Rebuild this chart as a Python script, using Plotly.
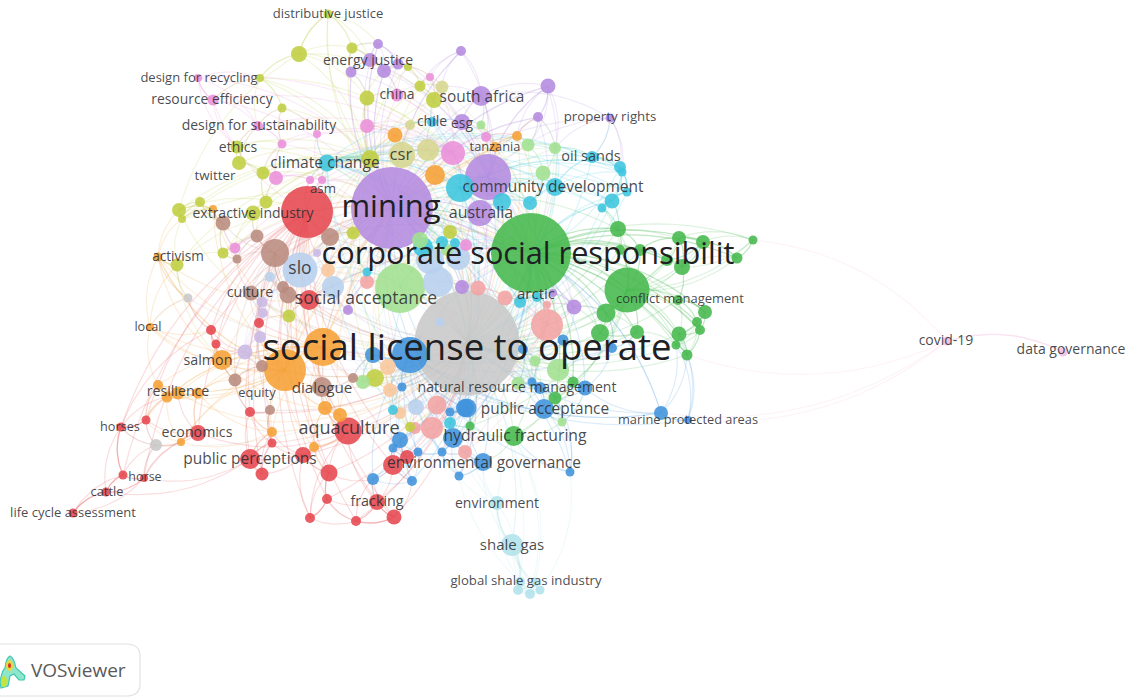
import plotly.graph_objects as go

# ---- cluster colours ----
colors = {"gray": "#c8c8c8", "purple": "#b48adf", "green": "#45b84c", "lgreen": "#a2e08f", "lblue": "#b7d0ee",
          "salmon": "#f3a3a3", "red": "#e6474f", "orange": "#f6a136", "lorange": "#f8c79c", "brown": "#b98b7e", "pink": "#ea8fda",
          "lav": "#c9b8e6", "yellow": "#bfce40", "olive": "#d6d68e", "cyan": "#3ec5de", "blue": "#4093dc", "lcyan": "#b2e2ea",
          "covid": "#f3bfe0"}

# ---- node positions and sizes per cluster (first entries are the hubs) ----
gray_x = [467, 188, 156]; gray_y = [343, 298, 445]; gray_d = [105, 9, 12]
purple_x = [392, 488, 480, 481, 548, 461, 378, 370, 384, 398, 351, 462, 538, 610, 574, 348, 462, 553]
purple_y = [208, 177, 213, 96, 86, 51, 44, 60, 71, 64, 72, 122, 117, 118, 307, 310, 287, 293]
purple_d = [82, 46, 26, 20, 15, 10, 10, 14, 14, 11, 11, 16, 10, 9, 15, 10, 14, 8]
green_x = [531, 627, 618, 679, 703, 753, 737, 682, 606, 600, 637, 679, 705, 697, 700, 676, 687, 678, 640, 620, 667, 514, 555, 470, 573]
green_y = [253, 290, 229, 238, 242, 240, 258, 267, 313, 333, 332, 334, 312, 322, 330, 345, 355, 300, 250, 250, 260, 436, 398, 426, 382]
green_d = [80, 45, 16, 14, 14, 9, 11, 16, 19, 18, 14, 15, 14, 10, 10, 9, 11, 10, 12, 10, 12, 20, 13, 9, 11]
lgreen_x = [400, 558, 535, 528, 555, 543, 481, 518, 562, 420, 447, 363]
lgreen_y = [288, 370, 361, 145, 148, 173, 125, 383, 422, 240, 250, 382]
lgreen_d = [50, 22, 11, 13, 12, 15, 9, 13, 9, 16, 12, 14]
lblue_x = [300, 438, 333, 430, 458, 270, 416, 440]
lblue_y = [270, 282, 287, 260, 258, 277, 407, 322]
lblue_d = [35, 30, 22, 28, 24, 10, 16, 9]
salmon_x = [547, 437, 432, 478, 465, 505, 547, 415, 367]
salmon_y = [325, 405, 428, 288, 452, 298, 305, 428, 282]
salmon_d = [32, 19, 22, 15, 14, 15, 8, 12, 14]
red_x = [307, 348, 309, 259, 211, 216, 250, 272, 198, 146, 250, 262, 303, 329, 327, 310, 377, 356, 394, 393, 407, 121, 123, 144, 106, 73]
red_y = [212, 431, 300, 323, 330, 344, 412, 443, 433, 420, 459, 474, 455, 473, 499, 518, 502, 521, 517, 465, 457, 427, 475, 478, 492, 513]
red_d = [52, 27, 20, 10, 10, 9, 10, 9, 16, 9, 20, 13, 16, 17, 10, 10, 16, 10, 15, 20, 14, 9, 9, 8, 9, 9]
orange_x = [285, 323, 222, 167, 178, 198, 158, 325, 340, 272, 314, 181, 150, 158, 395, 435, 517, 213, 495]
orange_y = [370, 347, 360, 397, 393, 393, 385, 408, 415, 432, 447, 442, 327, 257, 135, 175, 136, 209, 147]
orange_d = [42, 38, 20, 11, 13, 11, 10, 14, 14, 10, 10, 8, 8, 9, 15, 20, 10, 8, 10]
lorange_x = [390, 400, 388, 328]
lorange_y = [390, 413, 367, 270]
lorange_d = [14, 12, 16, 14]
brown_x = [275, 257, 330, 223, 251, 288, 283, 237, 235, 262, 322, 353, 270]
brown_y = [253, 236, 237, 223, 293, 295, 287, 259, 380, 366, 387, 378, 410]
brown_d = [28, 13, 18, 15, 15, 17, 12, 9, 13, 12, 20, 10, 10]
pink_x = [453, 276, 367, 317, 282, 258, 213, 198, 397, 430, 322, 310, 235, 486, 466]
pink_y = [153, 178, 126, 134, 144, 126, 100, 78, 95, 77, 180, 180, 248, 137, 245]
pink_d = [24, 14, 14, 8, 9, 10, 11, 8, 13, 8, 8, 8, 11, 10, 12]
lav_x = [245, 260, 263, 262, 317]
lav_y = [352, 337, 313, 302, 253]
lav_d = [15, 12, 10, 11, 8]
yellow_x = [370, 299, 328, 352, 367, 408, 420, 434, 260, 282, 237, 239, 263, 179, 182, 200, 253, 266, 353, 177, 223, 289, 410, 375, 450]
yellow_y = [159, 54, 14, 48, 98, 67, 86, 100, 78, 108, 147, 163, 173, 210, 219, 202, 213, 202, 233, 265, 253, 316, 427, 378, 232]
yellow_d = [18, 16, 9, 11, 15, 8, 11, 16, 8, 9, 13, 14, 13, 14, 8, 10, 15, 13, 13, 13, 11, 13, 10, 18, 14]
olive_x = [402, 428, 442, 410]
olive_y = [155, 150, 87, 125]
olive_d = [26, 22, 13, 10]
cyan_x = [460, 327, 432, 592, 620, 622, 555, 530, 612, 602, 627, 502, 367, 393, 423, 442, 520, 450, 537, 455]
cyan_y = [188, 163, 122, 157, 167, 172, 187, 203, 201, 208, 192, 202, 272, 410, 247, 242, 302, 423, 297, 243]
cyan_d = [28, 17, 10, 12, 12, 9, 18, 14, 15, 9, 9, 18, 9, 10, 20, 12, 12, 12, 10, 10]
blue_x = [410, 373, 400, 393, 450, 465, 442, 418, 453, 402, 467, 544, 585, 540, 532, 483, 459, 570, 661, 688, 612, 563, 523, 373, 412]
blue_y = [355, 355, 440, 448, 412, 408, 452, 452, 438, 387, 408, 409, 388, 388, 382, 462, 476, 472, 413, 420, 348, 340, 349, 479, 481]
blue_d = [36, 16, 16, 9, 9, 18, 9, 9, 20, 9, 19, 20, 15, 12, 9, 18, 9, 9, 14, 8, 10, 11, 10, 12, 10]
lcyan_x = [512, 497, 518, 530, 540, 520, 535]
lcyan_y = [545, 503, 590, 594, 590, 582, 582]
lcyan_d = [22, 14, 10, 10, 9, 10, 9]
covid_x = [947, 1063]
covid_y = [341, 352]
covid_d = [9, 9]

clusters = {
    "gray": (gray_x, gray_y, gray_d), "purple": (purple_x, purple_y, purple_d), "green": (green_x, green_y, green_d),
    "lgreen": (lgreen_x, lgreen_y, lgreen_d), "lblue": (lblue_x, lblue_y, lblue_d), "salmon": (salmon_x, salmon_y, salmon_d),
    "red": (red_x, red_y, red_d), "orange": (orange_x, orange_y, orange_d), "lorange": (lorange_x, lorange_y, lorange_d),
    "brown": (brown_x, brown_y, brown_d), "pink": (pink_x, pink_y, pink_d), "lav": (lav_x, lav_y, lav_d),
    "yellow": (yellow_x, yellow_y, yellow_d), "olive": (olive_x, olive_y, olive_d), "cyan": (cyan_x, cyan_y, cyan_d),
    "blue": (blue_x, blue_y, blue_d), "lcyan": (lcyan_x, lcyan_y, lcyan_d), "covid": (covid_x, covid_y, covid_d),
}

# ---- long links that leave the dense centre: (cluster, index) pairs ----
extra_links = [
    (("covid", 0), ("covid", 1)), (("covid", 1), ("covid", 0)), (("covid", 0), ("green", 16)), (("covid", 0), ("green", 5)),
    (("covid", 0), ("blue", 18)), (("covid", 0), ("blue", 19)), (("blue", 18), ("green", 0)), (("blue", 18), ("blue", 0)),
    (("yellow", 1), ("yellow", 2)), (("yellow", 2), ("yellow", 3)), (("yellow", 1), ("yellow", 13)), (("yellow", 1), ("yellow", 4)),
    (("yellow", 1), ("yellow", 7)), (("yellow", 13), ("red", 0)), (("yellow", 19), ("red", 0)), (("yellow", 19), ("orange", 2)),
    (("orange", 13), ("orange", 12)), (("orange", 13), ("orange", 2)), (("orange", 12), ("orange", 2)), (("orange", 13), ("orange", 0)),
    (("orange", 6), ("orange", 0)), (("orange", 3), ("orange", 1)), (("orange", 4), ("orange", 8)), (("orange", 5), ("orange", 9)),
    (("orange", 2), ("orange", 7)), (("orange", 11), ("orange", 9)), (("orange", 13), ("red", 2)), (("yellow", 13), ("yellow", 21)),
    (("red", 25), ("red", 24)), (("red", 24), ("red", 22)), (("red", 24), ("red", 10)), (("red", 22), ("red", 21)),
    (("red", 21), ("red", 9)), (("red", 9), ("red", 8)), (("red", 23), ("red", 8)), (("red", 23), ("red", 10)),
    (("red", 15), ("red", 14)), (("red", 14), ("red", 13)), (("red", 17), ("red", 18)), (("red", 16), ("red", 18)),
    (("red", 16), ("red", 1)), (("red", 15), ("red", 1)), (("red", 21), ("red", 4)), (("red", 8), ("red", 1)), (("red", 10), ("red", 1)),
    (("lcyan", 2), ("lcyan", 1)), (("lcyan", 3), ("lcyan", 1)), (("lcyan", 4), ("lcyan", 1)), (("lcyan", 5), ("blue", 8)),
    (("lcyan", 6), ("green", 21)), (("lcyan", 0), ("blue", 15)), (("lcyan", 0), ("gray", 0)), (("lcyan", 1), ("blue", 5)),
    (("lcyan", 2), ("gray", 0)), (("lcyan", 3), ("green", 21)), (("lcyan", 4), ("blue", 17)),
    (("purple", 4), ("purple", 3)), (("purple", 4), ("purple", 1)), (("purple", 5), ("purple", 0)), (("purple", 13), ("purple", 3)),
    (("cyan", 3), ("cyan", 6)), (("cyan", 4), ("cyan", 0)), (("cyan", 5), ("cyan", 7)), (("cyan", 8), ("green", 0)),
    (("pink", 7), ("pink", 6)), (("pink", 6), ("red", 0)), (("pink", 7), ("yellow", 0)), (("yellow", 8), ("pink", 0)),
]
hub_count = {"gray": 1, "purple": 2, "green": 2, "lgreen": 1, "lblue": 1, "salmon": 1, "red": 1, "orange": 2, "lorange": 1, "brown": 1,
             "pink": 1, "lav": 1, "yellow": 1, "olive": 1, "cyan": 2, "blue": 1, "lcyan": 1, "covid": 1}
global_hubs = [("gray", 0), ("purple", 0), ("green", 0)]
hub_reach = 230

# ---- labels ----
label_text = ["social license to operate", "corporate social responsibilit", "mining", "social acceptance", "aquaculture",
              "public perceptions", "shale gas", "environmental governance", "hydraulic fracturing", "public acceptance",
              "natural resource management", "dialogue", "slo", "csr", "climate change", "community development",
              "australia", "conflict management", "arctic", "south africa", "china", "chile", "esg", "tanzania", "oil sands",
              "property rights", "energy justice", "distributive justice", "design for recycling", "resource efficiency",
              "design for sustainability", "ethics", "twitter", "asm", "extractive industry", "activism", "culture", "local",
              "salmon", "resilience", "equity", "economics", "horses", "horse", "cattle", "life cycle assessment", "fracking",
              "environment", "global shale gas industry", "marine protected areas", "covid-19", "data governance"]
label_x = [467, 528, 391, 366, 349, 250, 512, 484, 515, 545, 517, 322, 300, 401, 325, 553, 481, 680, 536, 482, 397, 432, 462,
           495, 591, 610, 368, 328, 199, 212, 259, 238, 215, 323, 253, 178, 250, 148, 208, 178, 257, 197, 120, 145, 107, 73,
           377, 497, 526, 688, 946, 1071]
label_y = [351, 256, 209, 300, 429, 460, 546, 464, 437, 410, 388, 389, 270, 156, 164, 188, 214, 300, 295, 98, 95, 122, 125,
           148, 157, 118, 61, 15, 79, 101, 126, 148, 177, 190, 214, 258, 293, 328, 361, 392, 394, 433, 428, 478, 493, 514,
           502, 504, 582, 421, 341, 350]
label_size = [36.5, 30.7, 31, 17.5, 18, 15.5, 15, 15.5, 15.7, 15.4, 14, 15.2, 17.5, 16.7, 15.6, 15.5, 16, 13, 15, 15.4, 14, 14, 13.8,
              12.8, 14.5, 13.3, 14, 13, 13, 13.9, 14, 14, 13.4, 13.3, 14, 13.6, 14.2, 12.7, 14.3, 14.2, 12.9, 14.2, 12.7, 12.5, 12.8, 13,
              14.3, 14, 13.2, 12.8, 14, 14]
logo_text = "VOSviewer"


def alpha(hexcol, a):
    r, g, b = int(hexcol[1:3], 16), int(hexcol[3:5], 16), int(hexcol[5:7], 16)
    return f"rgba({r},{g},{b},{a})"


def pos(ref):
    c, i = ref
    return clusters[c][0][i], clusters[c][1][i]


def dist2(p, q):
    return (p[0] - q[0]) ** 2 + (p[1] - q[1]) ** 2


def curve(p, q):
    """Arc between two nodes, bowed away from the middle of the map."""
    mx, my = (p[0] + q[0]) / 2, (p[1] + q[1]) / 2
    dx, dy = q[0] - p[0], q[1] - p[1]
    nx, ny = -dy * 0.2, dx * 0.2
    if (mx + nx - 440) ** 2 + (my + ny - 330) ** 2 < (mx - nx - 440) ** 2 + (my - ny - 330) ** 2:
        nx, ny = -nx, -ny
    cx, cy = mx + nx, my + ny
    xs, ys = [], []
    for k in range(15):
        t = k / 14
        xs.append((1 - t) ** 2 * p[0] + 2 * t * (1 - t) * cx + t ** 2 * q[0])
        ys.append((1 - t) ** 2 * p[1] + 2 * t * (1 - t) * cy + t ** 2 * q[1])
    return xs + [None], ys + [None]


all_refs = [(c, i) for c, v in clusters.items() for i in range(len(v[0]))]

fig = go.Figure()
for name, (xs, ys, ds) in clusters.items():
    lx, ly = [], []
    for i in range(len(xs)):
        me = (name, i)
        p = pos(me)
        for h in range(hub_count[name]):
            q = pos((name, h))
            if h != i and dist2(p, q) < 330 ** 2:
                a, b = curve(p, q)
                lx += a; ly += b
        if name != "covid":
            for g in global_hubs:
                if g != me and (i % 2 == 0 or g[0] == "gray") and dist2(p, pos(g)) < hub_reach ** 2:
                    a, b = curve(p, pos(g))
                    lx += a; ly += b
            near = sorted((r for r in all_refs if r != me), key=lambda r: dist2(p, pos(r)))[:4]
            for r in near:
                if dist2(p, pos(r)) < 90 ** 2:
                    a, b = curve(p, pos(r))
                    lx += a; ly += b
    for p, q in extra_links:
        if p[0] == name:
            a, b = curve(pos(p), pos(q))
            lx += a; ly += b
    fig.add_trace(go.Scatter(x=lx, y=ly, mode="lines", hoverinfo="skip", showlegend=False,
                             line=dict(color=alpha(colors[name], 0.18), width=1.2)))

# nodes: large ones first so that small ones stay visible
nodes = []
for name, (xs, ys, ds) in clusters.items():
    nodes += [(ds[i], xs[i], ys[i], colors[name]) for i in range(len(xs))]
nodes.sort(key=lambda t: -t[0])
fig.add_trace(go.Scatter(x=[t[1] for t in nodes], y=[t[2] for t in nodes], mode="markers", hoverinfo="skip", showlegend=False,
                         marker=dict(size=[t[0] for t in nodes], color=[t[3] for t in nodes], opacity=0.88, line=dict(width=0))))
fig.add_trace(go.Scatter(x=label_x, y=label_y, text=label_text, mode="text", hoverinfo="text", showlegend=False,
                         textposition="middle center",
                         textfont=dict(family="Open Sans", size=label_size,
                                       color=["#1e2023" if s > 20 else "rgba(40,42,46,0.85)" for s in label_size])))

# VOSviewer logo box
fig.add_shape(type="path", path="M -6 644 L 126 644 Q 140 644 140 656 L 140 684 Q 140 696 126 696 L -6 696 Z",
              line=dict(color="#e2e2e2", width=1.2), fillcolor="white")
fig.add_shape(type="path", path="M 0 682 Q 2 670 5 668 Q 6 658 10 656 Q 14 658 16 668 L 25 676 L 24 680 L 19 680 L 14 674 L 10 676 L 8 686 L 1 688 Z",
              line=dict(color="#3fc9b0", width=1.2), fillcolor="#8fe6c8")
fig.add_shape(type="circle", x0=6, x1=13, y0=660, y1=671, line=dict(width=0), fillcolor="#e9d83c")
fig.add_shape(type="circle", x0=8, x1=11, y0=663, y1=668, line=dict(width=0), fillcolor="#dd2a2a")
fig.add_shape(type="circle", x0=1, x1=7, y0=676, y1=687, line=dict(width=0), fillcolor="#c6e23c")
fig.add_annotation(x=28.5, y=670, text=logo_text, showarrow=False, xanchor="left", yanchor="middle",
                   font=dict(family="Open Sans", size=19, color="#5a5a5a"))

fig.update_layout(width=1131, height=699, margin=dict(l=0, r=0, t=0, b=0), paper_bgcolor="white", plot_bgcolor="white",
                  xaxis=dict(range=[0, 1131], visible=False, fixedrange=True),
                  yaxis=dict(range=[699, 0], visible=False, fixedrange=True), showlegend=False)
fig.write_html("out.html", config={"displayModeBar": False}, post_script="document.body.style.margin='0';document.body.style.overflow='hidden';")
